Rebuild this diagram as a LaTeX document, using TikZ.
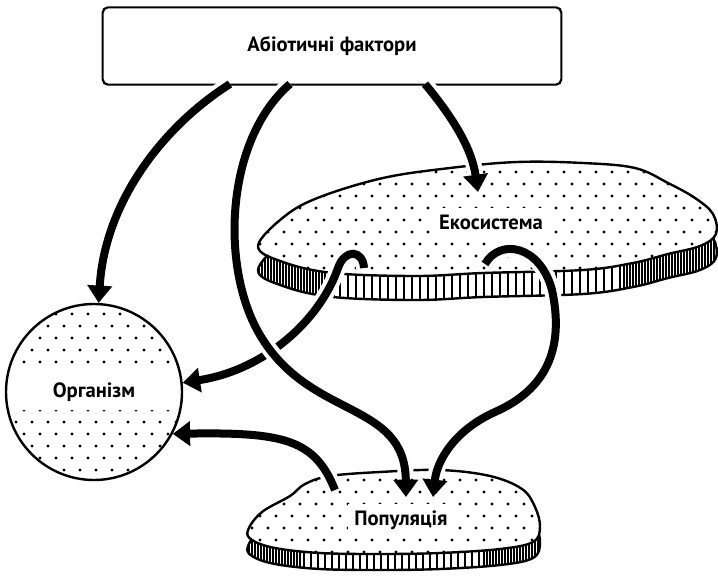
\documentclass[tikz,border=0pt]{standalone}
\usepackage{fontspec}
\newfontfamily\lblfont{PT Sans}
\usetikzlibrary{arrows.meta}
\newcommand\ecoshape{plot[smooth cycle,tension=0.6] coordinates {(258,246) (285,216) (320,197) (383,178) (450,168) (517,162) (583,163) (635,168) (668,183) (695,198) (713,214) (716,234) (700,246) (668,254) (633,263) (583,270) (483,273) (417,276) (333,273) (283,262)}}
\newcommand\popshape{plot[smooth cycle,tension=0.6] coordinates {(248,530) (262,512) (290,496) (305,484) (330,476) (380,472) (440,470) (490,476) (522,489) (535,507) (540,527) (533,542) (500,549) (440,553) (380,554) (320,553) (275,548) (252,540)}}

\begin{document}
\begin{tikzpicture}[x=0.75pt,y=-0.75pt,
 frame/.style={draw,line width=1.6pt,rounded corners=4pt,minimum width=344pt,minimum height=58pt,font=\lblfont\bfseries\fontsize{15.5}{18}\selectfont},
 tag/.style={fill=white,inner sep=5pt,font=\lblfont\bfseries\fontsize{15.5}{18}\selectfont},
 cell/.style={draw,circle,line width=1.8pt,minimum size=132pt,inner sep=0pt,font=\lblfont\bfseries\fontsize{15.5}{18}\selectfont},
 rim/.style={line width=1.8pt},
 hatch/.style={line width=1.1pt},
 flow/.style={line width=6pt,-{Triangle[width=18pt,length=13pt]},
   preaction={draw=white,line width=12pt,-,shorten >=14pt}}]
\useasboundingbox (0,0) rectangle (718,579);

% ecosystem slab
\begin{scope}[yshift=-18pt]
 \fill[white] \ecoshape;
 \begin{scope}
  \clip \ecoshape;
  \foreach \x in {256,259,...,335,340,348,...,620,624,627,...,718}
   \draw[hatch] (\x,150) -- (\x,320);
 \end{scope}
 \draw[rim] \ecoshape;
\end{scope}
\fill[white] \ecoshape;
\begin{scope}
 \clip \ecoshape;
 \foreach \j in {0,...,10}
  \foreach \i in {0,...,29}
   \fill ({252+\i*16+mod(\j,2)*8},{160+\j*12}) circle[radius=1.3pt];
\end{scope}
\draw[rim] \ecoshape;
\node[tag] (eco) at (491,222) {Екосистема};

% population slab
\begin{scope}[yshift=-12pt]
 \fill[white] \popshape;
 \begin{scope}
  \clip \popshape;
  \foreach \x in {246,249,...,300,304,311,...,480,484,487,...,545}
   \draw[hatch] (\x,460) -- (\x,580);
 \end{scope}
 \draw[rim] \popshape;
\end{scope}
\fill[white] \popshape;
\begin{scope}
 \clip \popshape;
 \foreach \j in {0,...,8}
  \foreach \i in {0,...,19}
   \fill ({244+\i*16+mod(\j,2)*8},{468+\j*12}) circle[radius=1.3pt];
\end{scope}
\draw[rim] \popshape;
\node[tag] (pop) at (401,520) {Популяція};

% organism
\begin{scope}
 \clip (94,392) circle[radius=66pt];
 \foreach \j in {0,...,15}
  \foreach \i in {0,...,12}
   \fill ({0+\i*16+mod(\j,2)*8},{302+\j*12}) circle[radius=1.3pt];
 \fill[white] (0,372) rectangle (200,410);
\end{scope}
\node[cell] (org) at (94,392) {Організм};

\node[frame] (abio) at (332,46) {Абіотичні фактори};

\coordinate (s1) at (230,84);
\coordinate (s2) at (290,84);
\coordinate (s3) at (425,84);
\coordinate (s4) at (364,268);
\coordinate (s5) at (485,264);
\coordinate (s6) at (335,490);
\coordinate (e2) at (406,497);
\coordinate (e3) at (478,192);
\coordinate (e5) at (433,497);

\draw[flow] (s1) .. controls (165,125) and (105,200) .. (org.87);
\draw[flow] (s3) .. controls (455,120) and (472,150) .. (e3);
\draw[flow] (s4) .. controls (363,250) and (345,248) .. (338,268) .. controls (320,320) and (265,370) .. (org.6);
\draw[flow] (s2) .. controls (225,140) and (220,268) .. (260,335) .. controls (310,420) and (405,400) .. (e2);
\draw[flow] (s5) .. controls (500,238) and (540,245) .. (552,290) .. controls (565,350) and (545,390) .. (495,412) .. controls (455,430) and (437,460) .. (e5);
\draw[flow] (s6) .. controls (315,440) and (285,432) .. (org.-28);
\end{tikzpicture}
\end{document}
